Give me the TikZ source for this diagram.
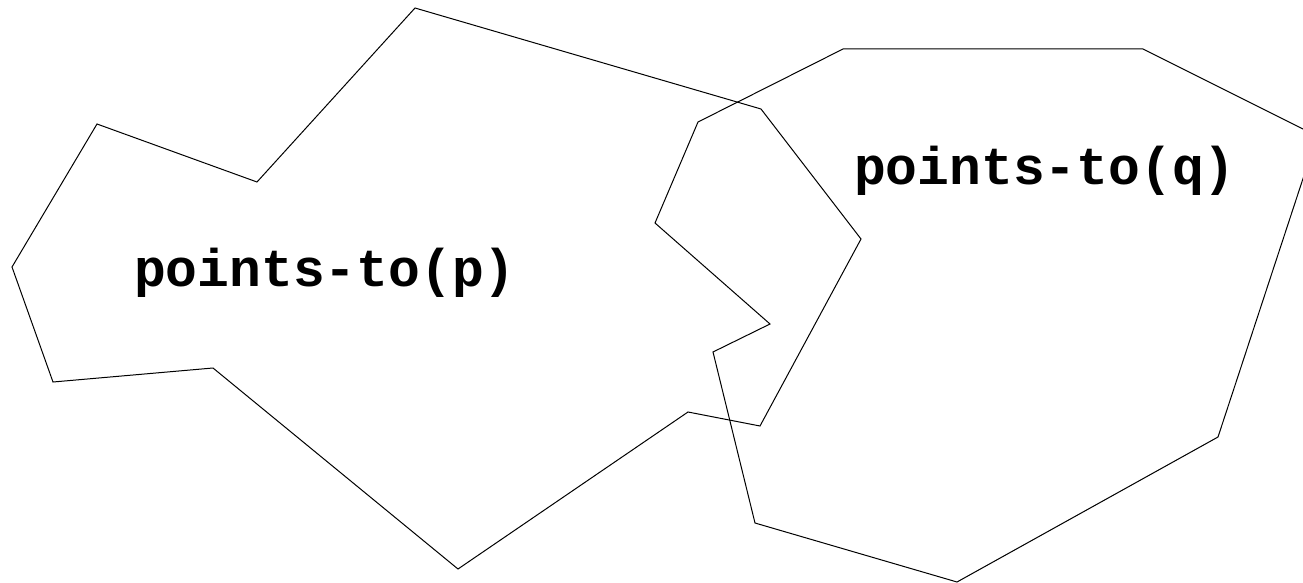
\documentclass[tikz,border=0pt]{standalone}
\usepackage{fontspec}
\setmonofont{Liberation Mono}
\begin{document}
\begin{tikzpicture}[x=1pt,y=-1pt,
  region/.style={draw=black,line width=1pt,line join=miter},
  lbl/.style={font=\ttfamily\bfseries\fontsize{53}{60}\selectfont,anchor=base,inner sep=0pt}]
\useasboundingbox (0,0) rectangle (1303,583);
\clip (0,0) rectangle (1303,583);
\draw[region] (415,8) -- (761,109) -- (861,239) -- (760,426) -- (688,412) -- (458,569) -- (213,368) -- (53,382) -- (12,267) -- (97,124) -- (257,182) -- cycle;
\draw[region] (843,49) -- (1143,49) -- (1317,136) -- (1218,437) -- (957,582) -- (755,523) -- (713,352) -- (770,324) -- (655,223) -- (698,122) -- cycle;
\node[lbl] (p) at (325,286) {points-to(p)};
\node[lbl] (q) at (1045,184) {points-to(q)};
\end{tikzpicture}
\end{document}
